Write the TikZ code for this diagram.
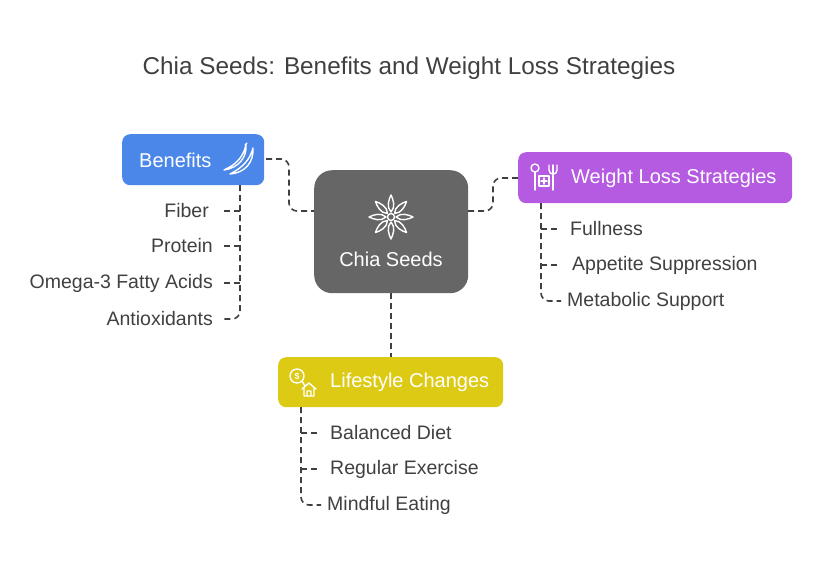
\documentclass[tikz,border=0pt]{standalone}
\usepackage{fontspec}
\setmainfont{Liberation Sans}
\begin{document}
\begin{tikzpicture}[x=1pt,y=-1pt,
  box/.style={rounded corners=8pt,inner sep=0pt,anchor=north west},
  conn/.style={draw=black!75,line width=1.6pt,dash pattern=on 6pt off 4pt,rounded corners=8pt},
  lab/.style={text=black!75,font=\fontsize{19.5}{22}\selectfont,inner sep=0pt},
  ttl/.style={text=white,font=\fontsize{20}{22}\selectfont,inner sep=0pt},
  ic/.style={draw=white,line width=1.4pt,line cap=round,line join=round}]
\useasboundingbox (0,0) rectangle (818,566);
\definecolor{cblue}{HTML}{4A87E8}
\definecolor{cgray}{HTML}{666666}
\definecolor{cpur}{HTML}{B55BE1}
\definecolor{cyel}{HTML}{DDCA14}
\node[text=black!75,font=\fontsize{24.3}{28}\selectfont] (title) at (409,68) {Chia Seeds: Benefits and Weight Loss Strategies};
% boxes
\node[box,fill=cblue,minimum width=142pt,minimum height=51pt] (B) at (122,134) {};
\node[box,fill=cgray,rounded corners=18pt,minimum width=154pt,minimum height=123pt] (C) at (314,170) {};
\node[box,fill=cpur,minimum width=274pt,minimum height=51pt] (W) at (518,152) {};
\node[box,fill=cyel,minimum width=225pt,minimum height=50pt] (L) at (278,357) {};
\node[ttl,anchor=west] (Bt) at (139,160) {Benefits};
\node[ttl] (Ct) at (391,259) {Chia Seeds};
\node[ttl,anchor=west] (Wt) at (571,178) {Weight Loss Strategies};
\node[ttl,anchor=west] (Lt) at (330,382) {Lifestyle Changes};
% icons
\begin{scope}[ic]
 \draw (224,170) .. controls (238,168) and (247,158) .. (246,145) .. controls (243,158) and (235,165) .. (224,170);
 \draw (230,174) .. controls (245,173) and (254,162) .. (253,148) .. controls (250,160) and (242,168) .. (230,174);
 \draw (245,145) -- (247,143);
\end{scope}
\begin{scope}[shift={(391,217)},ic]
 \foreach \a in {0,45,...,315}{\draw[rotate=\a] (0,-5) .. controls (5,-10) and (2,-18) .. (0,-22) .. controls (-2,-18) and (-5,-10) .. (0,-5);}
 \draw (0,0) circle (3.5);
\end{scope}
\begin{scope}[ic]
 \draw (535,168) circle (4); \draw (535,172) -- (535,190);
 \draw (539,176) rectangle (549,186);
 \draw (544,178) -- (544,184); \draw (541,181) -- (547,181);
 \draw (553,172) -- (553,190);
 \draw (549,165) -- (549,170) .. controls (549,173) and (551,174) .. (553,174) .. controls (555,174) and (557,173) .. (557,170) -- (557,165);
 \draw (553,165) -- (553,172);
\end{scope}
\begin{scope}[ic]
 \draw (297,376) circle (7);
 \node[text=white,font=\fontsize{9}{9}\selectfont\bfseries,inner sep=0pt] (dol) at (297,376) {\$};
 \draw (302,381) -- (305,386);
 \draw (302,389) -- (309,383) -- (316,389) (304,388) -- (304,396) -- (314,396) -- (314,388) (307,396) -- (307,391) -- (311,391) -- (311,396);
\end{scope}
% main connectors
\coordinate (b0) at (266,159);
\coordinate (c0) at (314,211);
\coordinate (c1) at (468,211);
\coordinate (w0) at (518,178);
\draw[conn] (b0) -- (289,159) -- (289,211) -- (c0);
\draw[conn] (c1) -- (493,211) -- (493,178) -- (w0);
\draw[conn] (C.south) -- (L.north -| C.south);
% benefits children
\node[lab,anchor=east] (f1) at (209,211) {Fiber};
\node[lab,anchor=east] (f2) at (213,246) {Protein};
\node[lab,anchor=east] (f3) at (213,283) {Omega-3 Fatty Acids};
\node[lab,anchor=east] (f4) at (213,319) {Antioxidants};
\coordinate (bx) at (240,185);
\draw[conn] (bx) -- (240,319) -- ([xshift=8pt]f4.east);
\foreach \n in {f1,f2,f3}{\draw[conn] (\n.east -| bx) -- ([xshift=10pt]f3.east |- \n.east);}
% weight children
\node[lab,anchor=west] (w1) at (570,229) {Fullness};
\node[lab,anchor=west] (w2) at (572,265) {Appetite Suppression};
\node[lab,anchor=west] (w3) at (567,301) {Metabolic Support};
\coordinate (wx) at (541,203);
\draw[conn] (wx) -- (541,301) -- ([xshift=-6pt]w3.west);
\foreach \n in {w1,w2}{\draw[conn] (\n.west -| wx) -- (558,0 |- \n.west);}
% lifestyle children
\node[lab,anchor=west] (l1) at (330,433) {Balanced Diet};
\node[lab,anchor=west] (l2) at (330,469) {Regular Exercise};
\node[lab,anchor=west] (l3) at (327,505) {Mindful Eating};
\coordinate (lx) at (301,407);
\draw[conn] (lx) -- (301,505) -- ([xshift=-6pt]l3.west);
\foreach \n in {l1,l2}{\draw[conn] (\n.west -| lx) -- (320,0 |- \n.west);}
\end{tikzpicture}
\end{document}
